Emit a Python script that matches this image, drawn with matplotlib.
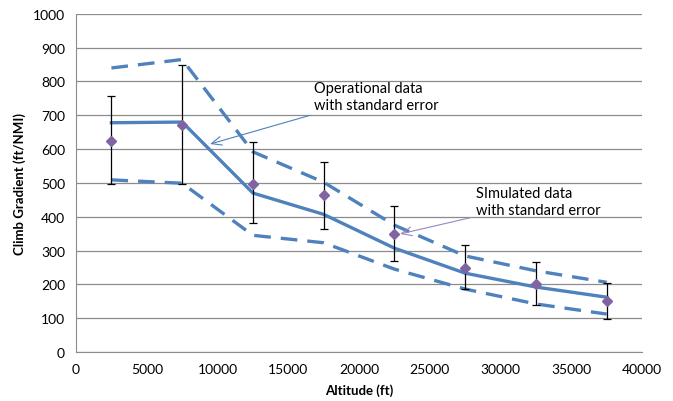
import matplotlib.pyplot as plt

plt.rcParams['font.family'] = ['Lato', 'DejaVu Sans']

# altitude bins (ft)
altitude = [2500, 7500, 12500, 17500, 22500, 27500, 32500, 37500]

# operational data: mean and standard error band
oper_mean = [678, 680, 470, 407, 307, 233, 192, 162]
oper_upper = [840, 865, 592, 502, 375, 284, 240, 206]
oper_lower = [509, 499, 345, 323, 245, 186, 142, 112]

# simulated data with error bars
sim_mean = [625, 670, 497, 465, 350, 248, 200, 152]
sim_top = [757, 850, 620, 563, 432, 315, 265, 205]
sim_bottom = [497, 497, 380, 365, 268, 185, 140, 97]

blue = '#4F81BD'
purple = '#8064A2'

fig = plt.figure(figsize=(6.73, 4.02), dpi=100)
ax = fig.add_axes([0.113, 0.122, 0.841, 0.841])

ax.plot(altitude, oper_upper, color=blue, lw=2.4, ls=(0, (5, 3)))
ax.plot(altitude, oper_lower, color=blue, lw=2.4, ls=(0, (5, 3)))
ax.plot(altitude, oper_mean, color=blue, lw=2.4)

err_lo = [m - b for m, b in zip(sim_mean, sim_bottom)]
err_hi = [t - m for m, t in zip(sim_mean, sim_top)]
ax.errorbar(altitude, sim_mean, yerr=[err_lo, err_hi], fmt='none',
            ecolor='black', elinewidth=0.9, capsize=3, capthick=0.9, zorder=3)
ax.plot(altitude, sim_mean, ls='none', marker='D', ms=5.5, color=purple, zorder=4)

ax.annotate('Operational data\nwith standard error', xy=(9470, 615), xytext=(16800, 756),
            fontsize=10.5, va='center', ha='left', linespacing=1.25,
            arrowprops=dict(arrowstyle='->,head_length=0.7,head_width=0.3', color=blue,
                            lw=0.8, shrinkA=2, shrinkB=0))
ax.annotate('SImulated data\nwith standard error', xy=(22900, 349), xytext=(28300, 444),
            fontsize=10.5, va='center', ha='left', linespacing=1.25,
            arrowprops=dict(arrowstyle='->,head_length=0.7,head_width=0.3', color='#9B87C2',
                            lw=0.8, shrinkA=2, shrinkB=0))

ax.set_xlim(0, 40000)
ax.set_ylim(0, 1000)
ax.set_xticks(range(0, 40001, 5000))
ax.set_yticks(range(0, 1001, 100))
ax.tick_params(length=0, labelsize=10, pad=8)
ax.grid(axis='y', color='#8C8C8C', lw=0.9)
ax.set_axisbelow(True)
for s in ['top', 'right']:
    ax.spines[s].set_visible(False)
for s in ['left', 'bottom']:
    ax.spines[s].set_color('#8C8C8C')

ax.set_xlabel('Altitude (ft)', fontsize=9.5, fontweight='bold', labelpad=6)
ax.set_ylabel('Climb Gradient (ft/NMI)', fontsize=9.5, fontweight='bold', labelpad=5)

fig.savefig('out.png', dpi=100)
